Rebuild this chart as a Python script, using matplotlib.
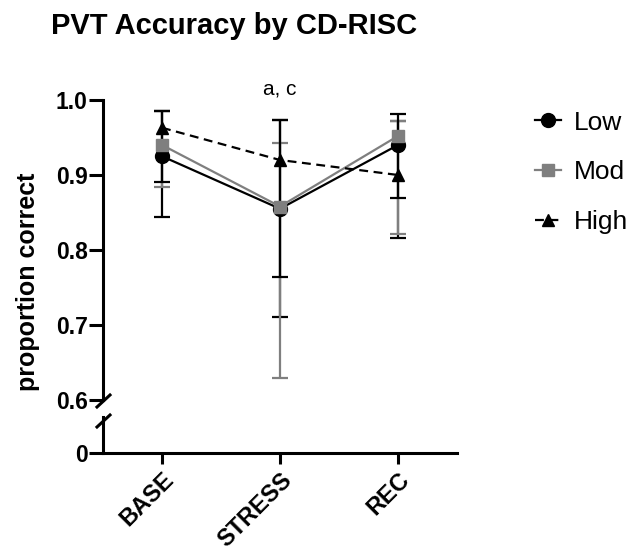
import numpy as np
import matplotlib
matplotlib.use("Agg")
import matplotlib.pyplot as plt
from matplotlib.lines import Line2D

plt.rcParams['font.family'] = ['Liberation Sans', 'DejaVu Sans']

# conditions and group means (proportion correct)
phases = ['BASE', 'STRESS', 'REC']
groups = ['Low', 'Mod', 'High']
low_mean = [0.925, 0.855, 0.940]
mod_mean = [0.940, 0.858, 0.952]
high_mean = [0.963, 0.920, 0.900]

# error bar ends (lower, upper)
low_lo = [0.844, 0.711, 0.816]
low_hi = [0.986, 0.973, 0.972]
mod_lo = [0.884, 0.630, 0.821]
mod_hi = [0.986, 0.943, 0.972]
high_lo = [0.891, 0.764, 0.870]
high_hi = [0.986, 0.973, 0.982]

yticks_top = [0.6, 0.7, 0.8, 0.9, 1.0]

fig = plt.figure(figsize=(6.36, 5.54), dpi=100)
W, H = 636, 554
left, right = 103 / W, 457 / W
ax = fig.add_axes([left, 1 - 400 / H, right - left, 300 / H])
ax2 = fig.add_axes([left, 1 - 453 / H, right - left, 36 / H])

x = np.arange(len(phases))
series = [
    ('Low', low_mean, low_lo, low_hi, 'black', 'o', '-', 10),
    ('Mod', mod_mean, mod_lo, mod_hi, '#7f7f7f', 's', '-', 9),
    ('High', high_mean, high_lo, high_hi, 'black', '^', '--', 9),
]
handles = []
for name, m, lo, hi, col, mk, ls, ms in series:
    m = np.array(m)
    yerr = [m - np.array(lo), np.array(hi) - m]
    dash = (4, 2.5) if ls == '--' else (None, None)
    ax.errorbar(x, m, yerr=yerr, color=col, marker=mk, ms=ms, ls=ls,
                lw=1.6, elinewidth=1.6, capsize=5.5, capthick=1.6,
                clip_on=False, dashes=dash)
    handles.append(Line2D([], [], color=col, marker=mk, ms=ms, ls=ls,
                          lw=1.6, dashes=dash))

ax.set_xlim(-0.5, 2.5)
ax.set_ylim(0.6, 1.0)
ax.set_yticks(yticks_top)
ax.set_yticklabels(['0.6', '0.7', '0.8', '0.9', '1.0'])
ax.set_xticks([])
for s in ['top', 'right', 'bottom']:
    ax.spines[s].set_visible(False)
ax.spines['left'].set_linewidth(2.2)
ax.tick_params(axis='y', length=10, width=2.2, pad=1, labelsize=16.5)
for t in ax.get_yticklabels():
    t.set_fontweight('bold')
ax.patch.set_alpha(0)

ax2.set_xlim(-0.5, 2.5)
ax2.set_ylim(0, 0.05)
ax2.set_yticks([0])
ax2.set_yticklabels(['0'])
ax2.set_xticks(x)
ax2.set_xticklabels(phases, rotation=45, ha='right', rotation_mode='anchor')
for s in ['top', 'right']:
    ax2.spines[s].set_visible(False)
ax2.spines['left'].set_linewidth(2.2)
ax2.spines['bottom'].set_linewidth(2.2)
ax2.tick_params(axis='y', length=10, width=2.2, pad=1, labelsize=16.5)
ax2.tick_params(axis='x', length=8, width=2.2, pad=3, labelsize=17)
for t in ax2.get_yticklabels() + ax2.get_xticklabels():
    t.set_fontweight('bold')
ax2.patch.set_alpha(0)

# break marks on the y axis
bx = [left - 6 / W, left + 7 / W]
for yb in [1 - 401 / H, 1 - 421 / H]:
    fig.add_artist(Line2D(bx, [yb - 6 / H, yb + 6 / H], color='black', lw=2.2))

ax.set_ylabel('proportion correct', fontsize=18, fontweight='bold')
ax.yaxis.set_label_coords(-0.178, 0.393)

ax.text(1, 1.017, 'a, c', ha='center', va='baseline', fontsize=15,
        transform=ax.get_xaxis_transform())

fig.text(234 / W, 1 - 26 / H, 'PVT Accuracy by CD-RISC', ha='center', va='center',
         fontsize=21, fontweight='bold')

fig.legend(handles=handles, labels=groups, loc='upper left',
           bbox_to_anchor=(524 / W, 1 - 100 / H), frameon=False,
           fontsize=19, handlelength=1.0, handletextpad=0.5,
           labelspacing=0.98, borderaxespad=0)

fig.savefig('out.png', dpi=100)
